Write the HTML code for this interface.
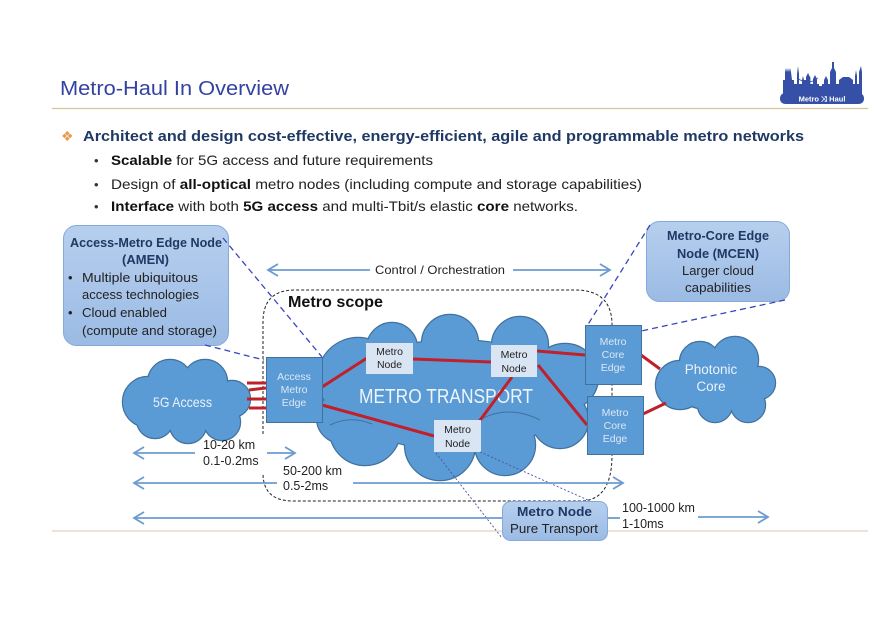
<!DOCTYPE html>
<html><head><meta charset="utf-8"><style>
html,body{margin:0;padding:0;background:#fff;}
svg{display:block;}
text{font-family:"Liberation Sans",sans-serif;}
</style></head><body>
<svg width="893" height="631" viewBox="0 0 893 631" xmlns="http://www.w3.org/2000/svg">
<defs>
<linearGradient id="cg" x1="0" y1="0" x2="0" y2="1"><stop offset="0" stop-color="#b7cfee"/><stop offset="1" stop-color="#9bbbe4"/></linearGradient>
</defs>
<rect width="893" height="631" fill="#fff"/>

<!-- Title -->
<text x="60" y="95" font-size="20" fill="#3442a2" textLength="229" lengthAdjust="spacingAndGlyphs">Metro-Haul In Overview</text>
<line x1="52" y1="108.5" x2="868" y2="108.5" stroke="#d9c19b" stroke-width="1.2"/>

<!-- Logo -->
<g fill="#3550a6">
<polygon points="783,95 783,80 785,80 785,72 786,68 787,72 788,68 789,72 790,68 791,72 792,80 794,80 794,84 797,84 797,74 798,66 799,74 799,84 802,84 802,80 803,76 804,80 806,80 806,77 808,73 810,77 810,84 813,84 813,79 815,75 817,79 817,84 819,84 819,86 822,86 822,84 824,84 824,80 826,76 828,80 828,84 830,84 830,72 832,68 832,62 834,62 834,68 836,72 836,84 839,84 839,80 843,77 849,77 853,80 853,84 855,84 855,76 856,70 857,76 857,84 859,84 859,72 861,66 862,72 862,95"/>
</g>
<g stroke="#3550a6" stroke-width="0.8" fill="none">
<path d="M797 78 Q808 86 818 78"/>
<path d="M810 77 L810 86"/>
</g>
<rect x="780" y="93" width="84" height="11" rx="5" fill="#3550a6"/>
<text x="822" y="101.5" font-size="7.5" font-weight="bold" fill="#fff" text-anchor="middle">Metro ⤨ Haul</text>

<!-- Bullets -->
<text x="61" y="141" font-size="14" fill="#e69a4a" font-family="DejaVu Sans">❖</text>
<text x="83" y="141" font-size="15" font-weight="bold" fill="#1f3864" textLength="721" lengthAdjust="spacingAndGlyphs">Architect and design cost-effective, energy-efficient, agile and programmable metro networks</text>
<text x="94" y="165" font-size="13" fill="#333">•</text>
<text x="94" y="189" font-size="13" fill="#333">•</text>
<text x="94" y="211" font-size="13" fill="#333">•</text>
<text x="111" y="165" font-size="14" fill="#222" textLength="322" lengthAdjust="spacingAndGlyphs"><tspan font-weight="bold" fill="#111">Scalable</tspan> for 5G access and future requirements</text>
<text x="111" y="189" font-size="14" fill="#222" textLength="531" lengthAdjust="spacingAndGlyphs">Design of <tspan font-weight="bold" fill="#111">all-optical</tspan> metro nodes (including compute and storage capabilities)</text>
<text x="111" y="211" font-size="14" fill="#222" textLength="467" lengthAdjust="spacingAndGlyphs"><tspan font-weight="bold" fill="#111">Interface</tspan> with both <tspan font-weight="bold" fill="#111">5G access</tspan> and multi-Tbit/s elastic <tspan font-weight="bold" fill="#111">core</tspan> networks.</text>

<!-- Metro scope dashed border -->
<g fill="none" stroke="#222" stroke-width="1" stroke-dasharray="3,2">
<path d="M263 434 L263 322 Q263 290 295 290 L575 290 Q612 290 612 325 L612 455 Q612 501 580 501 L293 501 Q263 501 263 473"/>
</g>
<text x="288" y="307" font-size="15.5" font-weight="bold" fill="#111" textLength="95" lengthAdjust="spacingAndGlyphs">Metro scope</text>

<!-- Control / Orchestration arrow -->
<g stroke="#6b9bcf" stroke-width="1.8" fill="none">
<line x1="268" y1="270" x2="370" y2="270"/>
<line x1="513" y1="270" x2="610" y2="270"/>
<polyline points="278,264 268,270 278,276"/>
<polyline points="600,264 610,270 600,276"/>
</g>
<text x="375" y="274" font-size="12" fill="#222" textLength="130" lengthAdjust="spacingAndGlyphs">Control / Orchestration</text>

<!-- Clouds: outlines then fills -->
<g fill="#41719c" stroke="#41719c" stroke-width="2.4">
<circle cx="148" cy="402" r="25"/><circle cx="170" cy="382" r="22"/><circle cx="205" cy="382" r="22"/><circle cx="232" cy="399" r="18"/><circle cx="222" cy="422" r="18"/><circle cx="188" cy="425" r="18"/><circle cx="155" cy="420" r="18"/><ellipse cx="187" cy="402" rx="50" ry="28"/>
<circle cx="358" cy="378" r="40"/><circle cx="392" cy="348" r="25"/><circle cx="450" cy="343" r="28"/><circle cx="520" cy="345" r="28"/><circle cx="565" cy="377" r="33"/><circle cx="560" cy="420" r="28"/><circle cx="505" cy="445" r="30"/><circle cx="440" cy="445" r="35"/><circle cx="365" cy="430" r="35"/><circle cx="342" cy="418" r="25"/><ellipse cx="455" cy="395" rx="115" ry="55"/>
<circle cx="680" cy="385" r="24"/><circle cx="700" cy="362" r="20"/><circle cx="735" cy="360" r="23"/><circle cx="759" cy="383" r="16"/><circle cx="748" cy="405" r="17"/><circle cx="715" cy="405" r="17"/><ellipse cx="715" cy="382" rx="45" ry="28"/>
</g>
<g fill="#5b9bd5">
<circle cx="148" cy="402" r="25"/><circle cx="170" cy="382" r="22"/><circle cx="205" cy="382" r="22"/><circle cx="232" cy="399" r="18"/><circle cx="222" cy="422" r="18"/><circle cx="188" cy="425" r="18"/><circle cx="155" cy="420" r="18"/><ellipse cx="187" cy="402" rx="50" ry="28"/>
<circle cx="358" cy="378" r="40"/><circle cx="392" cy="348" r="25"/><circle cx="450" cy="343" r="28"/><circle cx="520" cy="345" r="28"/><circle cx="565" cy="377" r="33"/><circle cx="560" cy="420" r="28"/><circle cx="505" cy="445" r="30"/><circle cx="440" cy="445" r="35"/><circle cx="365" cy="430" r="35"/><circle cx="342" cy="418" r="25"/><ellipse cx="455" cy="395" rx="115" ry="55"/>
<circle cx="680" cy="385" r="24"/><circle cx="700" cy="362" r="20"/><circle cx="735" cy="360" r="23"/><circle cx="759" cy="383" r="16"/><circle cx="748" cy="405" r="17"/><circle cx="715" cy="405" r="17"/><ellipse cx="715" cy="382" rx="45" ry="28"/>
</g>
<g fill="none" stroke="#41719c" stroke-width="1">
<path d="M465 430 Q500 400 540 420"/>
<path d="M330 425 Q350 415 372 424"/>
</g>

<text x="153" y="407" font-size="14" fill="#e9f1fb" textLength="59" lengthAdjust="spacingAndGlyphs">5G Access</text>
<text x="359" y="403" font-size="20" fill="#eef4fb" textLength="174" lengthAdjust="spacingAndGlyphs">METRO TRANSPORT</text>
<text x="711" y="374" font-size="13.5" fill="#e9f1fb" text-anchor="middle">Photonic</text>
<text x="711" y="391" font-size="13.5" fill="#e9f1fb" text-anchor="middle">Core</text>

<!-- Red links -->
<g stroke="#c0202a" stroke-width="3" stroke-linecap="butt">
<line x1="247" y1="383" x2="266" y2="383"/>
<line x1="249" y1="390" x2="266" y2="388"/>
<line x1="247" y1="399" x2="266" y2="399"/>
<line x1="249" y1="408" x2="266" y2="408"/>
<line x1="322" y1="387" x2="367" y2="358"/>
<line x1="322" y1="405" x2="434" y2="436"/>
<line x1="413" y1="359" x2="491" y2="362"/>
<line x1="512" y1="377" x2="478" y2="423"/>
<line x1="537" y1="351" x2="585" y2="355"/>
<line x1="538" y1="365" x2="587" y2="425"/>
<line x1="641" y1="355" x2="660" y2="369"/>
<line x1="643" y1="414" x2="666" y2="403"/>
</g>

<!-- Boxes -->
<g fill="#5b9bd5" stroke="#41719c" stroke-width="1">
<rect x="266.5" y="357.5" width="56" height="65"/>
<rect x="585.5" y="325.5" width="56" height="59"/>
<rect x="587.5" y="396.5" width="56" height="58"/>
</g>
<g fill="#dae5f4">
<rect x="366" y="343" width="47" height="31"/>
<rect x="491" y="345" width="46" height="32"/>
<rect x="434" y="420" width="47" height="32"/>
</g>
<g font-size="10.5" fill="#dbe7f5" text-anchor="middle">
<text x="294" y="380">Access</text><text x="294" y="393">Metro</text><text x="294" y="406">Edge</text>
<text x="613" y="345">Metro</text><text x="613" y="358">Core</text><text x="613" y="371">Edge</text>
<text x="615" y="416">Metro</text><text x="615" y="429">Core</text><text x="615" y="442">Edge</text>
</g>
<g font-size="10.5" fill="#222" text-anchor="middle">
<text x="389.5" y="355">Metro</text><text x="389.5" y="368">Node</text>
<text x="514" y="358">Metro</text><text x="514" y="372">Node</text>
<text x="457.5" y="433">Metro</text><text x="457.5" y="447">Node</text>
</g>

<!-- Callouts -->
<rect x="63.5" y="225.5" width="165" height="120" rx="13" fill="url(#cg)" stroke="#84a9da" stroke-width="1"/>
<text x="70" y="247" font-size="13" font-weight="bold" fill="#1f3864" textLength="152" lengthAdjust="spacingAndGlyphs">Access-Metro Edge Node</text>
<text x="145.5" y="264" font-size="13" font-weight="bold" fill="#1f3864" text-anchor="middle">(AMEN)</text>
<g font-size="13" fill="#222">
<text x="68" y="282">•</text>
<text x="82" y="282" textLength="116" lengthAdjust="spacingAndGlyphs">Multiple ubiquitous</text>
<text x="82" y="299" textLength="117" lengthAdjust="spacingAndGlyphs">access technologies</text>
<text x="68" y="317">•</text>
<text x="82" y="317" textLength="85" lengthAdjust="spacingAndGlyphs">Cloud enabled</text>
<text x="82" y="335" textLength="135" lengthAdjust="spacingAndGlyphs">(compute and storage)</text>
</g>

<rect x="646.5" y="221.5" width="143" height="80" rx="13" fill="url(#cg)" stroke="#84a9da" stroke-width="1"/>
<text x="667" y="240" font-size="13" font-weight="bold" fill="#1f3864" textLength="102" lengthAdjust="spacingAndGlyphs">Metro-Core Edge</text>
<text x="677" y="258" font-size="13" font-weight="bold" fill="#1f3864" textLength="82" lengthAdjust="spacingAndGlyphs">Node (MCEN)</text>
<text x="682" y="275" font-size="13" fill="#222" textLength="72" lengthAdjust="spacingAndGlyphs">Larger cloud</text>
<text x="685" y="292" font-size="13" fill="#222" textLength="66" lengthAdjust="spacingAndGlyphs">capabilities</text>

<!-- Callout dashed connectors -->
<g stroke="#3a46bd" stroke-width="1.3" stroke-dasharray="6,4" fill="none">
<line x1="223" y1="238" x2="322" y2="357"/>
<line x1="205" y1="345" x2="264" y2="360"/>
<line x1="650" y1="225" x2="587" y2="326"/>
<line x1="785" y1="300" x2="641" y2="331"/>
</g>

<!-- Dotted lines to Pure Transport -->
<g stroke="#4a4fa5" stroke-width="0.9" stroke-dasharray="2,2" fill="none">
<line x1="436" y1="453" x2="502" y2="538"/>
<line x1="480" y1="452" x2="590" y2="501"/>
</g>

<!-- Distance arrows -->
<g stroke="#6b9bcf" stroke-width="1.8" fill="none">
<line x1="134" y1="453" x2="195" y2="453"/>
<line x1="267" y1="453" x2="295" y2="453"/>
<polyline points="144,447 134,453 144,459"/>
<polyline points="285,447 295,453 285,459"/>
<line x1="134" y1="483" x2="277" y2="483"/>
<line x1="353" y1="483" x2="623" y2="483"/>
<polyline points="144,477 134,483 144,489"/>
<polyline points="613,477 623,483 613,489"/>
<line x1="134" y1="518" x2="503" y2="518"/>
<line x1="607" y1="518" x2="620" y2="518"/>
<line x1="698" y1="517" x2="768" y2="517"/>
<polyline points="144,512 134,518 144,524"/>
<polyline points="758,511 768,517 758,523"/>
</g>
<g font-size="12.5" fill="#222">
<text x="203" y="449">10-20 km</text>
<text x="203" y="465">0.1-0.2ms</text>
<text x="283" y="475">50-200 km</text>
<text x="283" y="490">0.5-2ms</text>
<text x="622" y="512">100-1000 km</text>
<text x="622" y="528">1-10ms</text>
</g>

<line x1="52" y1="531" x2="868" y2="531" stroke="#d9c9b0" stroke-width="1"/>

<!-- Pure transport box -->
<rect x="502.5" y="501.5" width="105" height="39" rx="8" fill="url(#cg)" stroke="#84a9da" stroke-width="1"/>
<text x="517" y="516" font-size="13" font-weight="bold" fill="#1f3864" textLength="75" lengthAdjust="spacingAndGlyphs">Metro Node</text>
<text x="510" y="533" font-size="13" fill="#222" textLength="88" lengthAdjust="spacingAndGlyphs">Pure Transport</text>
</svg>
</body></html>
